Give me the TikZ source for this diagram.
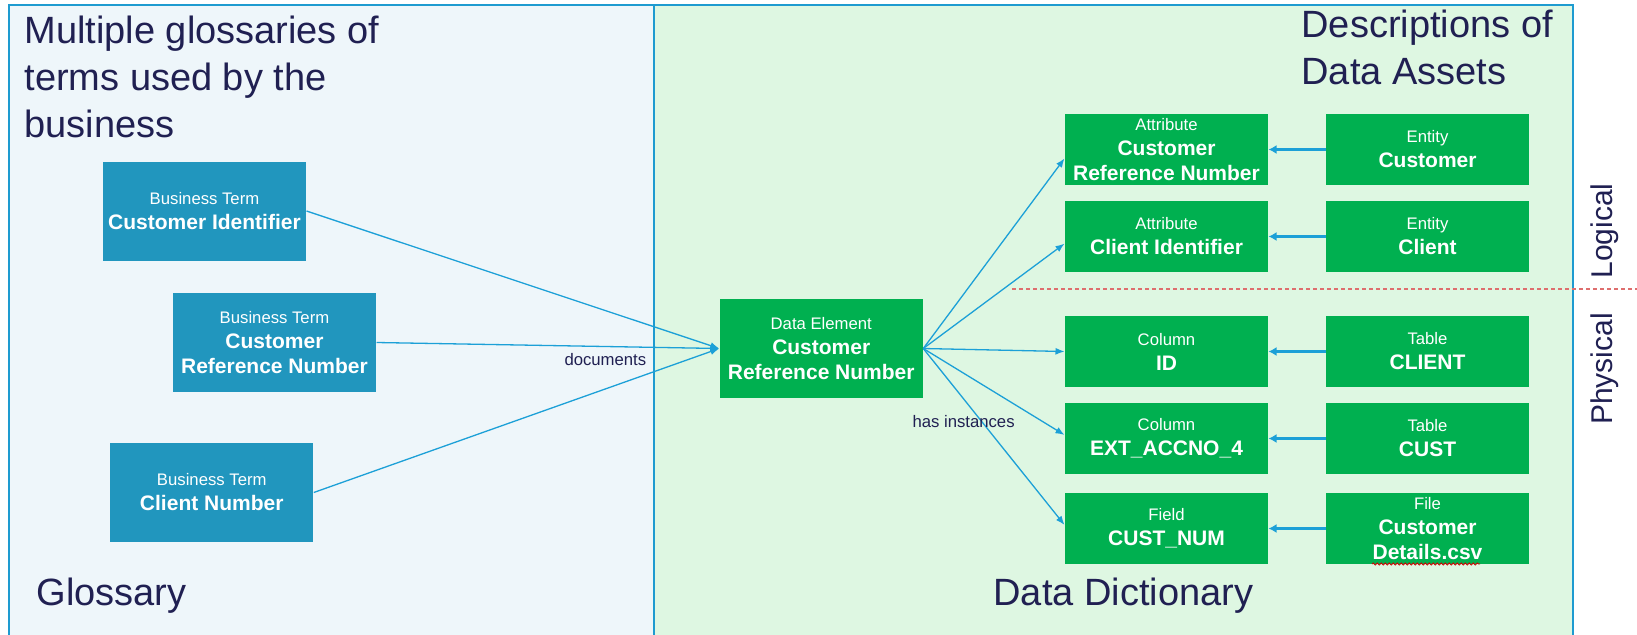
\documentclass[tikz,border=0pt]{standalone}
\usepackage{fontspec}
\setmainfont{Liberation Sans}
\usetikzlibrary{positioning,arrows.meta,decorations.pathmorphing}
\definecolor{termblue}{RGB}{33,150,190}
\definecolor{assetgreen}{RGB}{0,176,80}
\definecolor{linkblue}{RGB}{28,160,215}
\definecolor{inknavy}{RGB}{32,32,82}
\definecolor{glossfill}{RGB}{238,246,250}
\definecolor{dictfill}{RGB}{222,247,226}
\definecolor{panelline}{RGB}{30,155,208}
\definecolor{splitred}{RGB}{222,110,110}
\newcommand{\kindtext}[1]{{\fontsize{16.7}{25}\selectfont\mdseries #1}}
\tikzset{every picture/.style={line width=1pt}}

\begin{document}
\begin{tikzpicture}[x=1pt,y=-1pt,
  termbox/.style={fill=termblue, text=white, minimum width=203pt, minimum height=99pt,
    inner sep=0pt, align=center, font=\fontsize{21}{25}\selectfont\bfseries},
  assetbox/.style={fill=assetgreen, text=white, minimum width=203pt, minimum height=71pt,
    inner sep=0pt, align=center, font=\fontsize{21}{25}\selectfont\bfseries},
  link/.style={draw=linkblue, line width=1.3pt, -{Latex[length=9pt,width=7pt]}},
  backlink/.style={draw=linkblue, line width=2.6pt, -{Latex[length=8pt,width=9pt]}},
  heading/.style={text=inknavy, inner sep=0pt, font=\fontsize{38}{47}\selectfont},
  note/.style={text=inknavy, inner sep=0pt, font=\fontsize{16.7}{20}\selectfont}]
  \useasboundingbox (0,0) rectangle (1637,634);
  \clip (0,0) rectangle (1637,634);

  % the two panels
  \fill[glossfill] (9,5) rectangle (654,640);
  \fill[dictfill] (654,5) rectangle (1573,640);
  \draw[panelline, line width=1.6pt] (9,640) -- (9,5) -- (1573,5) -- (1573,640);
  \draw[panelline, line width=1.6pt] (654,5) -- (654,640);
  \draw[splitred, line width=1.2pt, dash pattern=on 4pt off 3pt] (1012,289) -- (1637,289);

  \node[heading, anchor=north west, align=left] (glossTitle) at (24,15)
    {Multiple glossaries of\\terms used by the\\business};
  \node[heading, anchor=north west, align=left] (dictTitle) at (1301,9)
    {Descriptions of\\Data Assets};
  \node[heading, anchor=base west] (glossName) at (36,605) {Glossary};
  \node[heading, anchor=base west] (dictName) at (993,605) {Data Dictionary};
  \node[text=inknavy, rotate=90, font=\fontsize{30}{36}\selectfont] (logical) at (1605,231) {Logical};
  \node[text=inknavy, rotate=90, font=\fontsize{30}{36}\selectfont] (physical) at (1605,369) {Physical};

  % glossary terms
  \node[termbox] (termA) at (204.5,211) {\kindtext{Business Term}\\Customer Identifier};
  \node[termbox] (termB) at (274.5,342.5) {\kindtext{Business Term}\\Customer\\Reference Number};
  \node[termbox] (termC) at (211.75,492.5) {\kindtext{Business Term}\\Client Number};

  % data element and its instances
  \node[assetbox, minimum height=99pt] (elem) at (821.25,348.5) {\kindtext{Data Element}\\Customer\\Reference Number};
  \node[assetbox] (attrA) at (1166.5,149.5) {\kindtext{Attribute}\\Customer\\Reference Number};
  \node[assetbox, below=15pt of attrA] (attrB) {\kindtext{Attribute}\\Client Identifier};
  \node[assetbox] (colId) at (1166.5,351.5) {\kindtext{Column}\\ID};
  \node[assetbox, below=15pt of colId] (colExt) {\kindtext{Column}\\EXT\_ACCNO\_4};
  \node[assetbox, below=18pt of colExt] (fieldNum) {\kindtext{Field}\\CUST\_NUM};

  \node[assetbox, right=57pt of attrA] (entA) {\kindtext{Entity}\\Customer};
  \node[assetbox, right=57pt of attrB] (entB) {\kindtext{Entity}\\Client};
  \node[assetbox, right=57pt of colId] (tabA) {\kindtext{Table}\\CLIENT};
  \node[assetbox, right=57pt of colExt] (tabB) {\kindtext{Table}\\CUST};
  \node[assetbox, right=57pt of fieldNum] (fileA) {\kindtext{File}\\Customer\\Details.csv};
  \draw[red!80!black, line width=0.8pt, decorate, decoration={snake, amplitude=1.1pt, segment length=4pt}]
    (1372,564) -- (1480,564);

  \foreach \t in {termA,termB,termC}{
    \draw[link] (\t.east) -- (elem.west);
  }
  \foreach \t/\a in {attrA/185,attrB/184,colId/180,colExt/178,fieldNum/178}{
    \draw[link] (elem.east) -- (\t.\a);
  }
  \foreach \s/\t in {entA/attrA,entB/attrB,tabA/colId,tabB/colExt,fileA/fieldNum}{
    \draw[backlink] (\s.west) -- (\t.east);
  }

  \node[note, anchor=base west] (documents) at (564,365) {documents};
  \node[note, anchor=base west] (instances) at (912,427) {has instances};
\end{tikzpicture}
\end{document}
